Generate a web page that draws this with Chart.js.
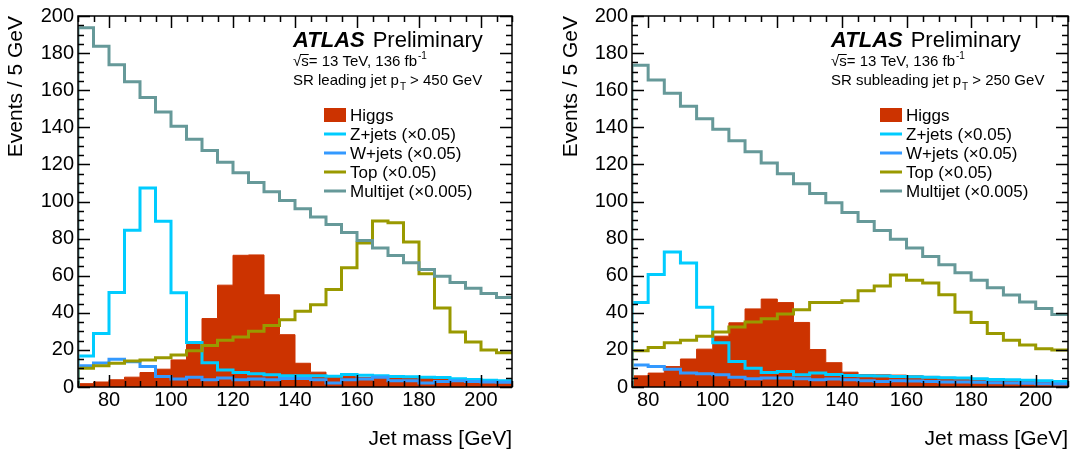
<!DOCTYPE html>
<html>
<head>
<meta charset="utf-8">
<title>Jet mass</title>
<script src="https://cdn.jsdelivr.net/npm/chart.js@4.4.0/dist/chart.umd.min.js"></script>
<style>
  html, body { margin: 0; padding: 0; background: #fff; }
  .panel { position: absolute; top: 0; width: 537px; height: 454px; }
</style>
</head>
<body>
<div class="panel" style="left:0"><canvas id="leadingChart" width="537" height="454"></canvas></div>
<div class="panel" style="left:537px"><canvas id="subleadingChart" width="537" height="454"></canvas></div>
<script>
// lower bin edges (GeV), 5 GeV bins
const leadingBins = [70, 75, 80, 85, 90, 95, 100, 105, 110, 115, 120, 125, 130, 135, 140, 145, 150, 155, 160, 165, 170, 175, 180, 185, 190, 195, 200, 205];
const subleadingBins = [75, 80, 85, 90, 95, 100, 105, 110, 115, 120, 125, 130, 135, 140, 145, 150, 155, 160, 165, 170, 175, 180, 185, 190, 195, 200, 205];
const binWidth = 5;

// leading jet, pT > 450 GeV
const leadingHiggs    = [1.8, 2.7, 3.9, 5.3, 7.8, 9.6, 14.6, 22.9, 36.9, 54.9, 71.0, 71.2, 49.7, 28.2, 12.8, 8.0, 6.0, 5.7, 5.2, 4.8, 6.2, 5.7, 5.2, 4.8, 3.9, 3.6, 3.0, 2.7];
const leadingZjets    = [16.7, 28.8, 51.0, 84.5, 107.3, 89.3, 50.8, 24.0, 13.1, 9.2, 7.8, 7.1, 6.6, 6.0, 6.0, 6.0, 5.8, 6.7, 6.4, 6.0, 5.7, 5.5, 5.3, 5.1, 4.4, 4.0, 3.6, 3.4];
const leadingWjets    = [11.4, 12.9, 14.9, 13.6, 11.0, 5.6, 4.3, 5.3, 3.9, 4.8, 3.9, 4.3, 3.9, 4.6, 4.6, 3.9, 2.1, 3.9, 4.3, 5.3, 3.4, 3.4, 2.1, 3.0, 3.4, 3.0, 2.7, 2.5];
const leadingTop      = [10.1, 11.5, 12.8, 14.0, 14.6, 15.8, 17.2, 19.5, 22.4, 25.2, 27.0, 30.0, 33.2, 36.2, 40.9, 44.4, 52.6, 64.3, 77.6, 89.5, 88.6, 78.2, 61.1, 42.6, 29.7, 24.2, 19.9, 18.5];
const leadingMultijet = [193.6, 183.7, 173.7, 164.5, 156.0, 148.3, 140.5, 133.6, 127.5, 121.1, 115.5, 110.3, 105.2, 100.5, 96.1, 91.7, 87.6, 83.3, 79.0, 75.0, 70.9, 67.0, 63.4, 59.7, 56.3, 53.3, 50.4, 48.3];

// subleading jet, pT > 250 GeV
const subHiggs    = [6.0, 7.5, 11.0, 15.1, 20.4, 27.4, 34.6, 42.1, 47.4, 45.5, 34.8, 20.2, 13.1, 8.0, 6.7, 6.6, 6.4, 6.0, 5.7, 5.2, 4.6, 4.3, 3.9, 3.6, 3.0, 2.7, 2.1];
const subZjets    = [45.5, 60.7, 72.8, 66.8, 43.0, 23.8, 13.7, 10.1, 7.8, 8.3, 6.6, 7.5, 6.7, 6.2, 6.0, 5.9, 5.7, 5.5, 5.3, 5.0, 4.8, 4.4, 4.1, 3.9, 3.7, 3.4, 3.0];
const subWjets    = [11.9, 11.0, 9.6, 7.5, 7.1, 6.6, 5.2, 4.4, 4.8, 4.8, 4.4, 3.9, 4.3, 3.9, 3.4, 3.0, 3.4, 3.2, 3.0, 2.7, 2.7, 2.5, 2.3, 2.1, 2.0, 1.8, 1.6];
const subTop      = [19.5, 21.3, 23.8, 25.2, 27.4, 29.7, 32.3, 35.0, 36.8, 39.4, 41.6, 45.6, 45.6, 46.5, 51.9, 54.5, 60.4, 57.5, 56.1, 49.7, 40.3, 34.8, 28.8, 25.2, 22.6, 20.6, 19.9];
const subMultijet = [173.5, 165.5, 158.4, 151.3, 144.6, 138.9, 132.7, 126.8, 120.8, 114.9, 109.6, 104.3, 99.3, 94.1, 89.2, 84.4, 79.6, 75.0, 70.3, 65.9, 61.6, 57.5, 53.5, 49.6, 45.8, 42.3, 39.1];

const xTickLabels = [80, 100, 120, 140, 160, 180, 200];
const yTickLabels = [0, 20, 40, 60, 80, 100, 120, 140, 160, 180, 200];
const legendLabels = ['Higgs', 'Z+jets (\u00d70.05)', 'W+jets (\u00d70.05)', 'Top (\u00d70.05)', 'Multijet (\u00d70.005)'];

const FONT = "'Liberation Sans', Arial, Helvetica, sans-serif";
Chart.defaults.font.family = FONT;
Chart.defaults.color = '#000';

const COLORS = ['#cc3300', '#00ccff', '#3399ff', '#999900', '#669999'];

// histogram outline: start from zero at the first edge, close at the last edge
function histPoints(edges, values) {
  const pts = [{ x: edges[0], y: 0 }];
  values.forEach((v, i) => pts.push({ x: edges[i], y: v }));
  pts.push({ x: edges[edges.length - 1] + binWidth, y: values[values.length - 1] });
  return pts;
}

function makeDatasets(edges, series) {
  return series.map((vals, i) => {
    const isHiggs = i === 0;
    return {
      label: legendLabels[i],
      data: histPoints(edges, vals),
      stepped: 'before',
      borderColor: COLORS[i],
      backgroundColor: COLORS[i],
      borderWidth: isHiggs ? 1 : 3,
      fill: isHiggs ? 'origin' : false,
      pointRadius: 0,
      order: 5 - i   // Higgs underneath, multijet on top
    };
  });
}

// frame with inward ticks on all four sides
const frameTicks = {
  id: 'frameTicks',
  afterDatasetsDraw(chart) {
    const { ctx, chartArea: { left, right, top, bottom } } = chart;
    const xs = chart.scales.x, ys = chart.scales.y;
    ctx.save();
    ctx.strokeStyle = '#000';
    ctx.lineWidth = 1.5;
    ctx.strokeRect(left, top, right - left, bottom - top);
    ctx.beginPath();
    for (let m = Math.ceil(xs.min / 5) * 5; m <= xs.max; m += 5) {
      const px = Math.round(xs.getPixelForValue(m)) + 0.5;
      const len = m % 20 === 0 ? 12 : 6;
      ctx.moveTo(px, bottom); ctx.lineTo(px, bottom - len);
      ctx.moveTo(px, top); ctx.lineTo(px, top + len);
    }
    for (let v = 0; v <= ys.max; v += 5) {
      const py = Math.round(ys.getPixelForValue(v)) + 0.5;
      const len = v % 20 === 0 ? 12 : 6;
      ctx.moveTo(left, py); ctx.lineTo(left + len, py);
      ctx.moveTo(right, py); ctx.lineTo(right - len, py);
    }
    ctx.stroke();
    ctx.restore();
  }
};

// ATLAS label and the legend box
const atlasLabel = {
  id: 'atlasLabel',
  afterDraw(chart, args, opts) {
    const { ctx } = chart;
    ctx.save();
    ctx.fillStyle = '#000';
    ctx.textBaseline = 'alphabetic';
    ctx.textAlign = 'left';

    let x = opts.x;
    ctx.font = `italic bold 22px ${FONT}`;
    ctx.fillText('ATLAS', x, 47);
    const wA = ctx.measureText('ATLAS').width;
    ctx.font = `22px ${FONT}`;
    ctx.fillText('Preliminary', x + wA + 8, 47);

    // sqrt(s) line
    ctx.font = `15px ${FONT}`;
    ctx.fillText('\u221a', x, 66);
    const wR = ctx.measureText('\u221a').width;
    const wS = ctx.measureText('s').width;
    ctx.lineWidth = 1;
    ctx.strokeStyle = '#000';
    ctx.beginPath();
    ctx.moveTo(x + wR - 1, 54.5); ctx.lineTo(x + wR + wS, 54.5);
    ctx.stroke();
    const t1 = 's= 13 TeV, 136 fb';
    ctx.fillText(t1, x + wR, 66);
    const w1 = ctx.measureText(t1).width;
    ctx.font = `10px ${FONT}`;
    ctx.fillText('-1', x + wR + w1 + 1, 59);

    // selection line with pT subscript
    ctx.font = `15px ${FONT}`;
    const t2 = opts.region + ' p';
    ctx.fillText(t2, x, 85);
    const w2 = ctx.measureText(t2).width;
    ctx.font = `10px ${FONT}`;
    ctx.fillText('T', x + w2 + 1, 90);
    ctx.font = `15px ${FONT}`;
    ctx.fillText(' > ' + opts.cut, x + w2 + 7, 85);

    // legend
    const lx = opts.legendX, rowH = 19, y0 = 115;
    ctx.font = `17px ${FONT}`;
    ctx.textBaseline = 'middle';
    chart.data.datasets.forEach((ds, i) => {
      const cy = y0 + i * rowH;
      if (ds.fill) {
        ctx.fillStyle = ds.backgroundColor;
        ctx.fillRect(lx, cy - 7, 22, 14);
      } else {
        ctx.strokeStyle = ds.borderColor;
        ctx.lineWidth = 3;
        ctx.beginPath();
        ctx.moveTo(lx, cy); ctx.lineTo(lx + 22, cy);
        ctx.stroke();
      }
      ctx.fillStyle = '#000';
      ctx.fillText(ds.label, lx + 26, cy + 1);
    });
    ctx.restore();
  }
};

function buildChart(canvasId, edges, series, xMin, yAxisWidth, padRight, yTitlePad, labelOpts) {
  return new Chart(document.getElementById(canvasId).getContext('2d'), {
    type: 'line',
    data: { datasets: makeDatasets(edges, series) },
    options: {
      responsive: false,
      animation: false,
      devicePixelRatio: 1,
      layout: { padding: { left: 0, top: 12, right: padRight, bottom: 0 } },
      plugins: {
        legend: { display: false },
        tooltip: { enabled: false },
        atlasLabel: labelOpts
      },
      scales: {
        x: {
          type: 'linear',
          min: xMin,
          max: 210,
          grid: { display: false, drawTicks: false },
          border: { display: false },
          afterBuildTicks: s => { s.ticks = xTickLabels.map(v => ({ value: v })); },
          afterFit: s => { s.height = 67; },
          ticks: { font: { size: 20 }, padding: 1, maxRotation: 0, autoSkip: false },
          title: { display: true, text: 'Jet mass [GeV]', align: 'end', font: { size: 21 }, padding: { top: 0, bottom: 2 } }
        },
        y: {
          min: 0,
          max: 200,
          grid: { display: false, drawTicks: false },
          border: { display: false },
          afterBuildTicks: s => { s.ticks = yTickLabels.map(v => ({ value: v })); },
          afterFit: s => { s.width = yAxisWidth; },
          ticks: { font: { size: 20 }, padding: 4, autoSkip: false },
          title: { display: true, text: 'Events / 5 GeV', align: 'end', font: { size: 21 }, padding: { top: yTitlePad, bottom: 0 } }
        }
      }
    },
    plugins: [frameTicks, atlasLabel]
  });
}

buildChart('leadingChart', leadingBins,
  [leadingHiggs, leadingZjets, leadingWjets, leadingTop, leadingMultijet],
  70, 78, 25, 4,
  { x: 293, region: 'SR leading jet', cut: '450 GeV', legendX: 324 });

buildChart('subleadingChart', subleadingBins,
  [subHiggs, subZjets, subWjets, subTop, subMultijet],
  75, 95, 6, 22,
  { x: 294, region: 'SR subleading jet', cut: '250 GeV', legendX: 343 });
</script>
</body>
</html>
